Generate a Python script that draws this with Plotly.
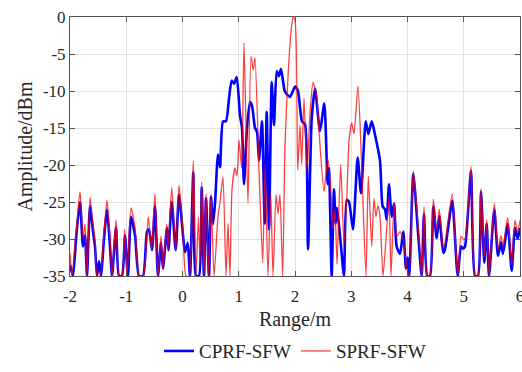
import plotly.graph_objects as go

# CPRF-SFW (blue) range profile: range (m), amplitude (dBm)
cprf_range = [-2.000, -1.947, -1.893, -1.822, -1.769, -1.733, -1.698, -1.644, -1.591, -1.556,
              -1.520, -1.484, -1.449, -1.396, -1.342, -1.289, -1.253, -1.182, -1.129, -1.076,
              -1.022, -0.969, -0.916, -0.844, -0.773, -0.702, -0.631, -0.596, -0.542, -0.489,
              -0.436, -0.382, -0.347, -0.276, -0.249, -0.192, -0.121, -0.062, 0.009, 0.044,
              0.092, 0.133, 0.192, 0.240, 0.293, 0.341, 0.382, 0.418, 0.471, 0.507,
              0.542, 0.578, 0.631, 0.667, 0.720, 0.773, 0.827, 0.874, 0.916, 0.964,
              1.022, 1.058, 1.093, 1.147, 1.200, 1.236, 1.289, 1.324, 1.360, 1.413,
              1.461, 1.497, 1.538, 1.586, 1.627, 1.675, 1.716, 1.751, 1.822, 1.911,
              2.000, 2.053, 2.124, 2.178, 2.231, 2.297, 2.356, 2.444, 2.521, 2.581,
              2.604, 2.652, 2.693, 2.724, 2.747, 2.818, 2.871, 2.919, 2.960, 3.031,
              3.114, 3.173, 3.257, 3.303, 3.364, 3.422, 3.511, 3.559, 3.600, 3.630,
              3.671, 3.719, 3.760, 3.807, 3.867, 3.925, 3.973, 4.004, 4.032, 4.103,
              4.192, 4.252, 4.293, 4.352, 4.400, 4.459, 4.519, 4.565, 4.636, 4.667,
              4.720, 4.796, 4.892, 4.951, 4.987, 5.022, 5.129, 5.200, 5.253, 5.307,
              5.365, 5.408, 5.449, 5.543, 5.609, 5.662, 5.698, 5.781, 5.852, 5.911,
              5.959, 6.000]
cprf_amp = [-33.5, -35, -30, -25, -31, -29.5, -35, -25.5, -29, -31,
            -35, -33, -35, -30, -26, -31, -35, -28.5, -35, -35,
            -29.5, -35, -27, -29.5, -35, -35, -29, -28.7, -31.5, -25.5,
            -35, -30.5, -34, -28.5, -31.5, -25, -31.5, -24, -29.5, -31.8,
            -30.5, -35, -21, -35, -35, -23, -35, -24.5, -35, -24.3,
            -28, -25.2, -18.6, -20.3, -14.1, -14.1, -11, -8.6, -9, -8.1,
            -13.3, -15, -22.6, -15, -11.5, -12, -15, -15.5, -19.4, -14.1,
            -27.9, -12.8, -28.7, -8.8, -14.6, -7.3, -8, -7, -10.1, -10.8,
            -9.4, -10, -14.1, -14.5, -31.4, -13.7, -9.7, -15.4, -11.7, -22.6,
            -20.4, -35, -23.3, -27.9, -25.8, -31, -35, -24.7, -25, -28.7,
            -19, -23.8, -14.1, -15.8, -14.1, -15.9, -19.4, -25.6, -26, -27.4,
            -22.6, -27, -25.2, -31, -32, -29, -34, -32.5, -35, -21.2,
            -29.6, -35, -26.6, -35, -35, -25.6, -29.9, -26.9, -31.9, -31.4,
            -28.6, -24.8, -35, -31, -31.3, -31, -20.8, -35, -35, -23.6,
            -33.2, -27.9, -35, -26, -32.3, -30.4, -32, -28, -34.3, -28.5,
            -30, -28.5]

# SPRF-SFW (red) range profile
sprf_range = [-2.000, -1.964, -1.893, -1.822, -1.769, -1.733, -1.698, -1.644, -1.591, -1.556,
              -1.520, -1.467, -1.396, -1.342, -1.289, -1.253, -1.182, -1.129, -1.076, -1.028,
              -0.987, -0.916, -0.844, -0.773, -0.702, -0.608, -0.548, -0.489, -0.436, -0.382,
              -0.347, -0.281, -0.258, -0.192, -0.121, -0.062, 0.009, 0.062, 0.116, 0.192,
              0.240, 0.284, 0.311, 0.341, 0.382, 0.418, 0.462, 0.507, 0.560, 0.631,
              0.667, 0.720, 0.773, 0.809, 0.844, 0.880, 0.933, 0.969, 1.004, 1.052,
              1.093, 1.164, 1.218, 1.259, 1.289, 1.360, 1.426, 1.467, 1.520, 1.568,
              1.609, 1.662, 1.698, 1.733, 1.781, 1.822, 1.876, 1.929, 1.964, 2.000,
              2.048, 2.089, 2.119, 2.160, 2.213, 2.267, 2.320, 2.356, 2.391, 2.427,
              2.516, 2.581, 2.640, 2.676, 2.711, 2.747, 2.812, 2.871, 2.919, 2.960,
              3.008, 3.049, 3.120, 3.186, 3.262, 3.303, 3.364, 3.404, 3.440, 3.476,
              3.511, 3.564, 3.618, 3.671, 3.707, 3.760, 3.813, 3.867, 3.920, 3.991,
              4.027, 4.103, 4.192, 4.252, 4.293, 4.352, 4.400, 4.459, 4.519, 4.565,
              4.636, 4.667, 4.720, 4.796, 4.892, 4.951, 4.987, 5.022, 5.129, 5.200,
              5.253, 5.307, 5.365, 5.408, 5.449, 5.543, 5.609, 5.662, 5.698, 5.781,
              5.852, 5.911, 5.959, 6.000]
sprf_amp = [-32, -35, -29, -23.6, -30, -28, -35, -24.3, -28, -30,
            -35, -35, -29, -24.7, -30, -35, -27.4, -35, -35, -28.7,
            -35, -25.8, -28.5, -35, -35, -27, -31.4, -23.9, -35, -29.6,
            -34, -28, -31.5, -23, -31.5, -22.7, -29, -35, -35, -19.4,
            -35, -27, -33, -22.3, -35, -23.9, -35, -24, -35, -27,
            -25, -21.6, -35, -27.9, -35, -23.3, -20.4, -21.5, -16.6, -20.4,
            -3.5, -25.2, -5.3, -7.2, -5.5, -20.7, -33.2, -19.9, -35, -23.9,
            -35, -24, -26.6, -24, -35, -17.3, -8, -2, 0, -0.4,
            -20.7, -14.6, -19.9, -11, -20.7, -13, -8.8, -9.7, -11, -15.4,
            -23.6, -19, -23.8, -28.7, -26, -33.4, -19.9, -30.7, -24.9, -16.8,
            -14.3, -15.8, -9.3, -20.3, -35, -21.5, -31, -24.5, -27, -25.5,
            -27, -35, -30, -24.3, -35, -25.2, -29.6, -29, -30, -34,
            -35, -20.8, -28.5, -35, -25.6, -35, -35, -24.6, -29, -26,
            -31, -30.5, -27.5, -23.9, -35, -29.6, -30, -30, -20.2, -35,
            -35, -23.2, -32.5, -27.4, -35, -25.2, -31.5, -29.5, -31, -27.1,
            -33.5, -27.5, -29, -27.5]

x_ticks = [-2, -1, 0, 1, 2, 3, 4, 5, 6]
x_tick_labels = ["-2", "-1", "0", "1", "2", "3", "4", "5", "6"]
y_ticks = [-35, -30, -25, -20, -15, -10, -5, 0]
y_tick_labels = ["-35", "-30", "-25", "-20", "-15", "-10", "-5", "0"]

FONT = "'Liberation Serif', 'Times New Roman', 'DejaVu Serif', serif"
TXT = "#262626"

fig = go.Figure()
fig.add_trace(go.Scatter(
    x=cprf_range, y=cprf_amp, mode="lines", name="CPRF-SFW",
    line=dict(color="#0000ff", width=2.6, shape="spline", smoothing=0.6),
))
fig.add_trace(go.Scatter(
    x=sprf_range, y=sprf_amp, mode="lines", name="SPRF-SFW",
    line=dict(color="rgba(255,0,0,0.75)", width=1.3, shape="spline", smoothing=0.6),
))

axis_common = dict(
    showline=True, mirror="ticks", linecolor="#555555", linewidth=1,
    ticks="inside", ticklen=5, tickcolor="#555555",
    showgrid=True, gridcolor="#e3e3e3", gridwidth=1, zeroline=False,
    tickfont=dict(family=FONT, size=17, color=TXT),
    automargin=False,
)

fig.update_layout(
    width=522, height=372,
    margin=dict(l=70, r=2, t=17, b=91),
    paper_bgcolor="white", plot_bgcolor="white",
    font=dict(family=FONT, color=TXT),
    xaxis=dict(range=[-2, 6], tickvals=x_ticks, ticktext=x_tick_labels,
               ticklabelstandoff=5, ticklabeloverflow="allow",
               title=dict(text="Range/m", font=dict(family=FONT, size=20, color=TXT), standoff=6),
               **axis_common),
    yaxis=dict(range=[-35, 0], tickvals=y_ticks, ticktext=y_tick_labels,
               title=dict(text="Amplitude/dBm", font=dict(family=FONT, size=20, color=TXT), standoff=4),
               **axis_common),
    legend=dict(orientation="h", x=0.5, xanchor="center", y=-0.29, yanchor="middle",
                font=dict(family=FONT, size=19, color=TXT),
                bgcolor="rgba(0,0,0,0)", tracegroupgap=0),
    showlegend=True,
)

fig.write_html("out.html", config={"displayModeBar": False},
               post_script="document.body.style.margin='0';document.body.style.overflow='hidden';")
